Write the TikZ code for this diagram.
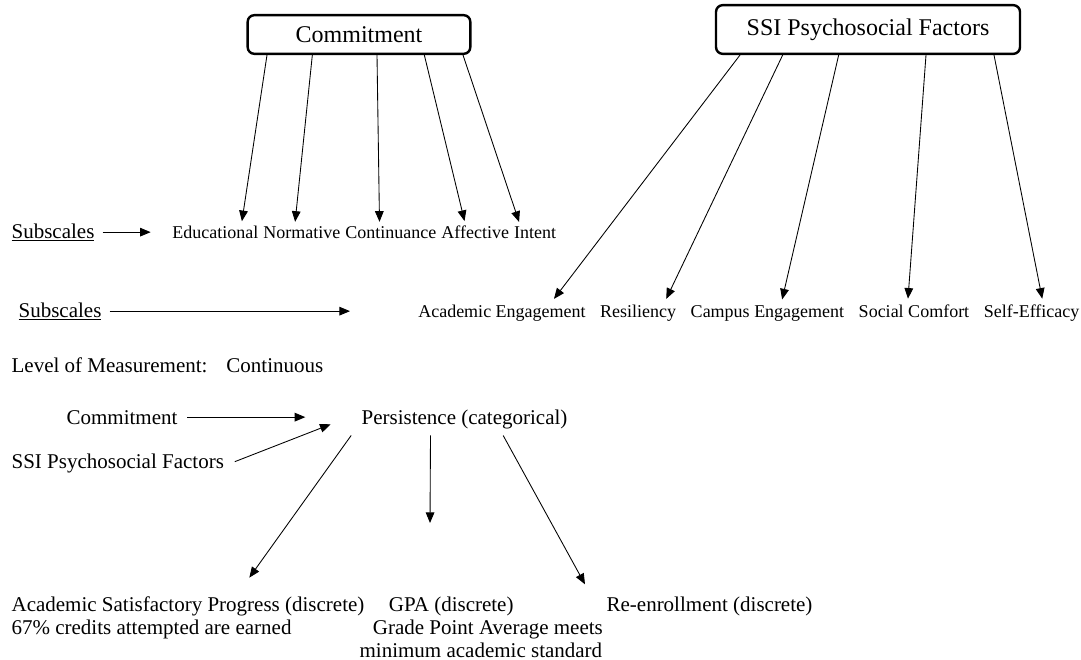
\documentclass[tikz,border=0pt]{standalone}
\usepackage{fontspec}
\setmainfont{Liberation Serif}
\usepackage{tikz}
\usetikzlibrary{
  arrows.meta,
  positioning,
  calc
}
\definecolor{psInk}{HTML}{000000}
\tikzset{
  factorbox/.style={
    draw=psInk, rounded corners=5pt, line width=1.8pt,
    font=\fontsize{18}{21}\selectfont, inner sep=2pt
  },
  plaintext/.style={font=\fontsize{15.75}{17.25}\selectfont, inner sep=1pt, text=psInk},
  scaleword/.style={font=\fontsize{13.5}{16}\selectfont, inner sep=0pt, text=psInk},
  link/.style={-{Triangle[length=8pt, width=6.5pt]}, line width=0.65pt, psInk}
}

\begin{document}
\begin{tikzpicture}[x=0.75pt, y=-0.75pt]
  \useasboundingbox (0,0) rectangle (1081,660);

  % factor boxes
  \node[factorbox, minimum width=167pt, minimum height=29pt] (comm) at (359,34.5) {Commitment};
  \node[factorbox, minimum width=228pt, minimum height=36.5pt] (ssi) at (868,29.5) {SSI Psychosocial Factors};

  % commitment subscales
  \node[plaintext, anchor=base west] (subA) at (10,238) {\underline{Subscales}};
  \node[scaleword, anchor=base west] (edu) at (172,238) {Educational};
  \node[scaleword, base right=3.4pt of edu] (norm) {Normative};
  \node[scaleword, base right=3.4pt of norm] (cont) {Continuance};
  \node[scaleword, base right=3.4pt of cont] (aff) {Affective};
  \node[scaleword, base right=3.4pt of aff] (intent) {Intent};
  \draw[link, shorten <=5pt, shorten >=16pt] (subA.east) -- (subA.east -| edu.west);

  \draw[link] ([xshift=-69pt]comm.south) -- ([xshift=20pt, yshift=3pt]edu.north);
  \draw[link] ([xshift=-35pt]comm.south) -- ([xshift=-5pt, yshift=3pt]norm.north);
  \draw[link] ([xshift=13.5pt]comm.south) -- ([xshift=-8.5pt, yshift=3pt]cont.north);
  \draw[link] ([xshift=49pt]comm.south) -- ([xshift=-8pt, yshift=3pt]aff.north);
  \draw[link] ([xshift=78pt]comm.south) -- ([xshift=-12pt, yshift=3pt]intent.north);

  % ssi subscales
  \node[plaintext, anchor=base west] (subB) at (17,317) {\underline{Subscales}};
  \node[scaleword, anchor=base west] (acad) at (418,317) {Academic Engagement};
  \node[scaleword, base right=10.5pt of acad] (resil) {Resiliency};
  \node[scaleword, base right=10.5pt of resil] (camp) {Campus Engagement};
  \node[scaleword, base right=10.5pt of camp] (social) {Social Comfort};
  \node[scaleword, base right=10.5pt of social] (selfeff) {Self-Efficacy};
  \draw[link, shorten <=5pt, shorten >=51pt] (subB.east) -- (subB.east -| acad.west);

  \draw[link] ([xshift=-96pt]ssi.south) -- ([xshift=39pt, yshift=4pt]acad.north);
  \draw[link] ([xshift=-64pt]ssi.south) -- ([xshift=21pt, yshift=4pt]resil.north);
  \draw[link] ([xshift=-22pt]ssi.south) -- ([xshift=11pt, yshift=4pt]camp.north);
  \draw[link] ([xshift=43.5pt]ssi.south) -- ([xshift=-4.5pt, yshift=4pt]social.north);
  \draw[link] ([xshift=94.5pt]ssi.south) -- ([xshift=8pt, yshift=4pt]selfeff.north);

  \node[plaintext, anchor=base west] (level) at (10,372) {Level of Measurement:\hspace{0.9em}Continuous};

  % persistence model
  \node[plaintext, anchor=base west] (commL) at (65,424) {Commitment};
  \node[plaintext, anchor=base west] (pers) at (360,424) {Persistence (categorical)};
  \node[plaintext, anchor=base west] (ssiL) at (10,468) {SSI Psychosocial Factors};
  \draw[link, shorten <=6pt, shorten >=41pt] (commL.east) -- (commL.east -| pers.west);
  \draw[link] ([xshift=7pt, yshift=1pt]ssiL.east) -- ([xshift=-22pt, yshift=-4pt]pers.west);

  \node[plaintext, anchor=north west, align=left] (asp) at (10,595)
    {Academic Satisfactory Progress (discrete)\\67\% credits attempted are earned};
  \node[plaintext, anchor=north west, align=left] (gpa) at (358,595)
    {\hspace*{22pt}GPA (discrete)\\\hspace*{10pt}Grade Point Average meets\\minimum academic standard};
  \node[plaintext, anchor=north west] (reen) at (605,595) {Re-enrollment (discrete)};

  \draw[link] ([xshift=-85pt, yshift=-4pt]pers.south) -- ([xshift=46pt, yshift=13pt]asp.north);
  \draw[link] ([xshift=-25.5pt, yshift=-4pt]pers.south) -- ([xshift=54pt, yshift=54pt]gpa.north west);
  \draw[link] ([xshift=29pt, yshift=-4pt]pers.south) -- ([xshift=-15pt, yshift=8pt]reen.north west);
\end{tikzpicture}
\end{document}
